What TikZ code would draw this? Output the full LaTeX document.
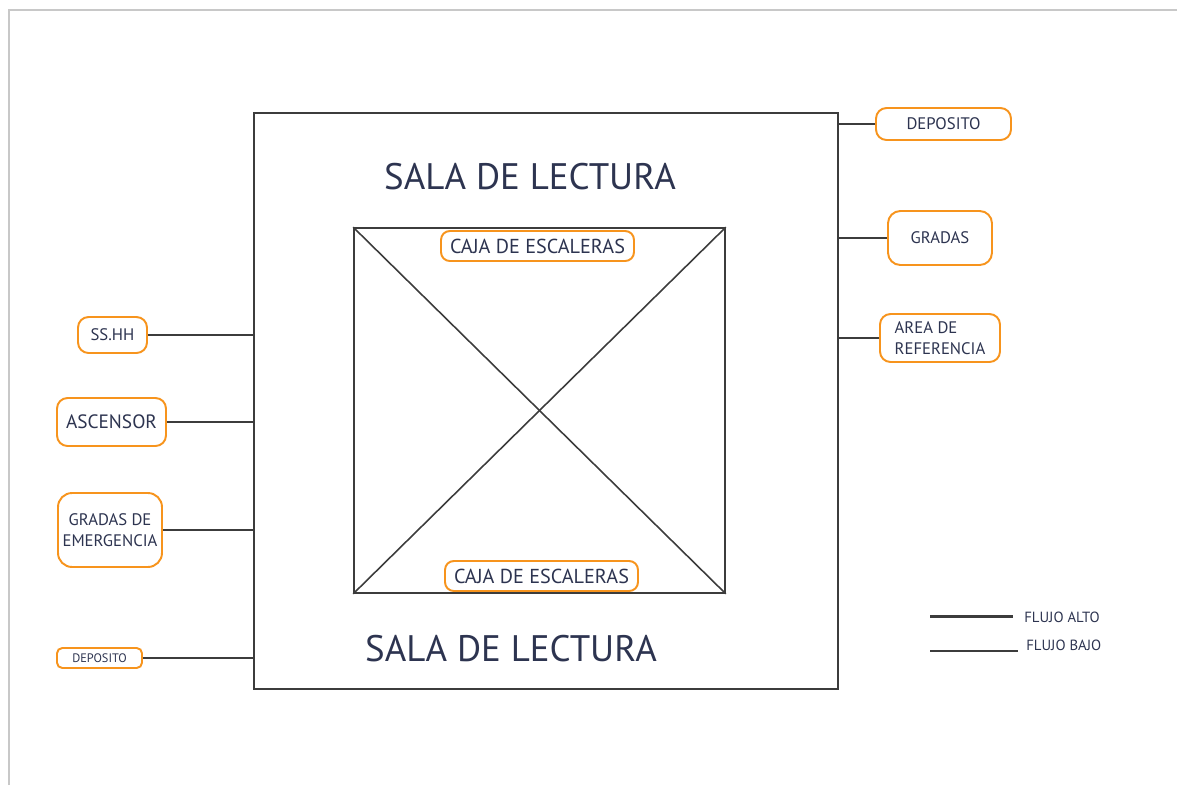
\documentclass[tikz,border=0pt]{standalone}
\usepackage{fontspec}
\setmainfont{PT Sans}
\usepackage{xcolor}
\usetikzlibrary{positioning,calc}
\definecolor{naranja}{RGB}{247,148,29}
\definecolor{tinta}{RGB}{45,52,80}
\definecolor{linea}{RGB}{60,60,60}
\definecolor{borde}{RGB}{200,200,200}

\begin{document}
\begin{tikzpicture}[
x=0.02cm,
y=-0.02cm,
every node/.style={text=tinta,inner sep=0pt},
ambiente/.style={rectangle,draw=naranja,line width=1.1pt,rounded corners=6pt,fill=white,align=center},
muro/.style={rectangle,draw=linea,line width=1pt},
enlace/.style={draw=linea,line width=1.5pt},
sala/.style={font=\fontsize{21}{24}\selectfont}
]
\useasboundingbox (0,0) rectangle (1177,785);
% borde de la hoja
\draw[borde,line width=1pt] (9,785) -- (9,10) -- (1177,10);

% bloque central
\node[muro,minimum width=11.68cm,minimum height=11.52cm] (salaBox) at (546,401) {};
\node[muro,minimum width=7.42cm,minimum height=7.30cm] (caja) at (539.5,410.5) {};
\draw[linea,line width=0.9pt] (caja.north west) -- (caja.south east);
\draw[linea,line width=0.9pt] (caja.south west) -- (caja.north east);
\node[sala] (salaArriba) at (530,177) {SALA DE LECTURA};
\node[sala] (salaAbajo) at (511,649) {SALA DE LECTURA};
\node[ambiente,rounded corners=5pt,minimum width=3.86cm,minimum height=0.60cm,font=\fontsize{11.5}{13}\selectfont] (cajaArriba) at (537.5,246) {CAJA DE ESCALERAS};
\node[ambiente,rounded corners=5pt,minimum width=3.86cm,minimum height=0.60cm,font=\fontsize{11.5}{13}\selectfont] (cajaAbajo) at (541.5,576) {CAJA DE ESCALERAS};

% ambientes de la izquierda
\node[ambiente,minimum width=1.38cm,minimum height=0.72cm,font=\fontsize{9.5}{11}\selectfont] (ssHH) at (112.5,335) {SS.HH};
\node[ambiente,minimum width=2.18cm,minimum height=0.96cm,font=\fontsize{11}{13}\selectfont] (ascensor) at (111.5,422) {ASCENSOR};
\node[ambiente,minimum width=2.08cm,minimum height=1.48cm,rounded corners=8pt,font=\fontsize{9.5}{12}\selectfont] (gradasEm) at (110,530) {GRADAS DE\\EMERGENCIA};
\node[ambiente,minimum width=1.70cm,minimum height=0.40cm,rounded corners=3pt,font=\fontsize{7}{8}\selectfont] (depIzq) at (99.5,658) {DEPOSITO};

% ambientes de la derecha
\node[ambiente,minimum width=2.70cm,minimum height=0.64cm,font=\fontsize{9.5}{11}\selectfont] (depDer) at (943.5,124) {DEPOSITO};
\node[ambiente,minimum width=2.08cm,minimum height=1.08cm,rounded corners=7pt,font=\fontsize{9.5}{11}\selectfont] (gradas) at (940,238) {GRADAS};
\node[ambiente,minimum width=2.40cm,minimum height=0.96cm,align=left,font=\fontsize{9.5}{12}\selectfont] (areaRef) at (940,338) {AREA DE\\REFERENCIA};

\draw[enlace] (ssHH.east) -- (ssHH -| salaBox.west);
\draw[enlace] (ascensor.east) -- (ascensor -| salaBox.west);
\draw[enlace] (gradasEm.east) -- (gradasEm -| salaBox.west);
\draw[enlace] (depIzq.east) -- (depIzq -| salaBox.west);
\draw[enlace] (depDer.west) -- (depDer -| salaBox.east);
\draw[enlace] (gradas.west) -- (gradas -| salaBox.east);
\draw[enlace] (areaRef.west) -- (areaRef -| salaBox.east);

% leyenda
\coordinate (altoA) at (930,616);
\coordinate (altoB) at (1013,616);
\coordinate (bajoA) at (930,651);
\coordinate (bajoB) at (1018,651);
\draw[linea,line width=1.7pt] (altoA) -- (altoB);
\draw[linea,line width=1pt] (bajoA) -- (bajoB);
\node[anchor=west,font=\fontsize{8.4}{9}\selectfont] (altoTxt) at (1024,617) {FLUJO ALTO};
\node[anchor=west,font=\fontsize{8.4}{9}\selectfont] (bajoTxt) at (1026,645) {FLUJO BAJO};
\end{tikzpicture}
\end{document}
